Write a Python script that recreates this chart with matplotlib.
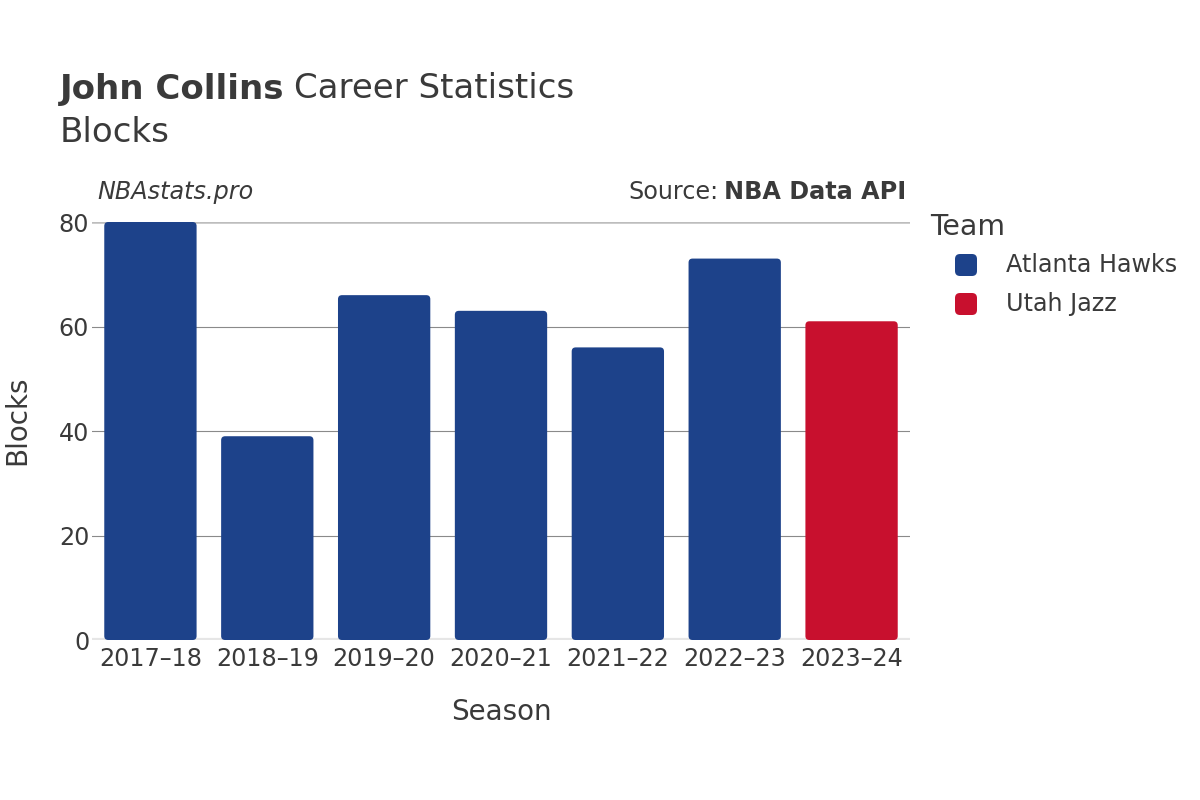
import matplotlib
matplotlib.use("Agg")
import matplotlib.pyplot as plt
from matplotlib.patches import FancyBboxPatch

seasons = ["2017–18", "2018–19", "2019–20", "2020–21", "2021–22", "2022–23", "2023–24"]
blocks = [80, 39, 66, 63, 56, 73, 61]
teams = ["Atlanta Hawks", "Atlanta Hawks", "Atlanta Hawks", "Atlanta Hawks",
         "Atlanta Hawks", "Atlanta Hawks", "Utah Jazz"]
team_names = ["Atlanta Hawks", "Utah Jazz"]
team_colors = {"Atlanta Hawks": "#1D428A", "Utah Jazz": "#C8102E"}
yticks = [0, 20, 40, 60, 80]

TXT = "#3a3a3a"
plt.rcParams['font.family'] = ['DejaVu Sans']

W, H = 1200, 800
fig = plt.figure(figsize=(12, 8), dpi=100)
L, R, B, T = 92, 910, 640, 222
ax = fig.add_axes([L / W, 1 - B / H, (R - L) / W, (B - T) / H])
ax.set_xlim(-0.5, len(seasons) - 0.5)
ax.set_ylim(0, 80)

# bars via ax.bar, then replaced with rounded patches
bw = 0.79
bars = ax.bar(range(len(seasons)), blocks, width=bw,
              color=[team_colors[t] for t in teams])
px_x = (R - L) / len(seasons)
px_y = (B - T) / 80.0
rad = 4.0
rx = rad / px_x
ry = rad / px_y
for b in bars:
    x0, y0 = b.get_x(), b.get_y()
    w, h = b.get_width(), b.get_height()
    fc = b.get_facecolor()
    b.remove()
    p = FancyBboxPatch((x0, y0), w, h,
                       boxstyle=f"round,pad=0,rounding_size={rx}",
                       mutation_aspect=ry / rx, facecolor=fc, edgecolor="none", zorder=3)
    ax.add_patch(p)

for s in ax.spines.values():
    s.set_visible(False)
for y in yticks[1:-1]:
    ax.axhline(y, color="#8a8a8a", lw=0.8, zorder=1)
ax.axhline(80, color="#bdbdbd", lw=1.8, zorder=1)
ax.axhline(0, color="#e6e6e6", lw=3, zorder=2)

ax.set_yticks(yticks)
ax.set_yticklabels([str(v) for v in yticks])
ax.set_xticks(range(len(seasons)))
ax.set_xticklabels(seasons)
ax.tick_params(axis="both", length=0, labelsize=17.2, colors=TXT)
ax.tick_params(axis="y", pad=2)
ax.tick_params(axis="x", pad=5)

fig.text(501 / W, 1 - 712 / H, "Season", fontsize=20, color=TXT, ha="center", va="center")
fig.text(17 / W, 1 - 420 / H, "Blocks", fontsize=20, color=TXT, ha="center", va="center", rotation=90)

# title
t1 = fig.text(60 / W, 1 - 89 / H, "John Collins", fontsize=24.5, fontweight="bold", color=TXT,
              ha="left", va="center")
fig.canvas.draw()
bb = t1.get_window_extent()
fig.text((bb.x1 + 9) / W, 1 - 89 / H, "Career Statistics", fontsize=24.5, color=TXT,
         ha="left", va="center")
fig.text(60 / W, 1 - 132 / H, "Blocks", fontsize=24.5, color=TXT, ha="left", va="center")

fig.text(97 / W, 1 - 192 / H, "NBAstats.pro", fontsize=17.2, style="italic", color=TXT,
         ha="left", va="center")
s2 = fig.text(906 / W, 1 - 192 / H, "NBA Data API", fontsize=17.2, fontweight="bold", color=TXT,
              ha="right", va="center")
fig.canvas.draw()
bb2 = s2.get_window_extent()
fig.text((bb2.x0 - 5) / W, 1 - 192 / H, "Source:", fontsize=17.2, color=TXT, ha="right", va="center")

# legend
fig.text(930 / W, 1 - 227 / H, "Team", fontsize=20.4, color=TXT, ha="left", va="center")
for i, name in enumerate(team_names):
    yc = 265 + i * 39
    sq = 22
    p = FancyBboxPatch(((966 - sq / 2) / W, 1 - (yc + sq / 2) / H), sq / W, sq / H,
                       boxstyle=f"round,pad=0,rounding_size={5 / W}",
                       mutation_aspect=W / H,
                       transform=fig.transFigure, facecolor=team_colors[name], edgecolor="none")
    fig.patches.append(p)
    fig.text(1006 / W, 1 - yc / H, name, fontsize=17.2, color=TXT, ha="left", va="center")

fig.savefig("out.png", dpi=100)
